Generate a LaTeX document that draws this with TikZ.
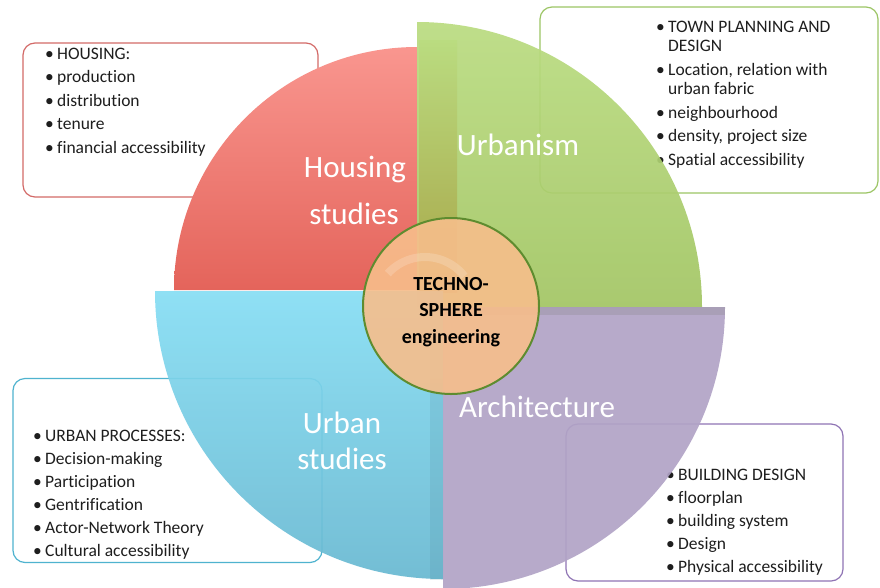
\documentclass[tikz,border=0pt]{standalone}
\usepackage{fontspec}
\setmainfont[Ligatures=NoCommon]{Carlito}
\definecolor{redtop}{HTML}{F9968F}
\definecolor{redbot}{HTML}{E4645B}
\definecolor{greentop}{HTML}{BADC80}
\definecolor{greenbot}{HTML}{A2C563}
\definecolor{olive}{HTML}{A8A345}
\definecolor{bluetop}{HTML}{86DEF4}
\definecolor{bluemid}{HTML}{70C7E1}
\definecolor{bluebot}{HTML}{68B8D1}
\definecolor{purpfill}{HTML}{B1A3C6}
\definecolor{coreorange}{HTML}{F7BE8B}
\definecolor{coregreen}{HTML}{5E8C2F}
\definecolor{redline}{HTML}{D36A68}
\definecolor{greenline}{HTML}{9CC565}
\definecolor{blueline}{HTML}{4FB3CF}
\definecolor{purpline}{HTML}{8F74B4}
\definecolor{txt}{HTML}{1E1E1E}
\newcommand\bul{\makebox[12pt][l]{•}}
\tikzset{
  listbox/.style={draw, line width=1.2pt, rounded corners=12pt, fill=white, inner sep=0pt},
  listtext/.style={anchor=north west, inner sep=0pt, text=txt,
    font=\fontsize{17.5}{19.5}\selectfont},
  qlabel/.style={anchor=base, inner sep=0pt, text=white, font=\fontsize{31}{31}\selectfont},
  quad/.style={fill opacity=0.92}
}
\begin{document}
\begin{tikzpicture}[x=1pt,y=-1pt]
\useasboundingbox (0,0) rectangle (880,587);
\clip (0,0) rectangle (880,587);
\fill[white] (0,0) rectangle (880,587);

% list boxes (behind the quadrants)
\node[listbox, draw=redline, minimum width=295pt, minimum height=154pt] (hbox) at (170.5,120) {};
\node[listbox, draw=greenline, minimum width=338pt, minimum height=186pt] (ubox) at (709,100) {};
\node[listbox, draw=blueline, minimum width=309pt, minimum height=184pt] (pbox) at (167.5,470.5) {};
\node[listbox, draw=purpline, minimum width=277pt, minimum height=157pt] (abox) at (704.5,502.5) {};

% list texts
\node[listtext] (htext) at (45,45.35) {\begin{tabular}{@{}l@{}}
\bul HOUSING:\\[4pt]
\bul production\\[4pt]
\bul distribution\\[4pt]
\bul tenure\\[4pt]
\bul financial accessibility
\end{tabular}};
\node[listtext] (utext) at (656,18.35) {\begin{tabular}{@{}l@{}}
\bul TOWN PLANNING AND\\
\hspace*{12pt}DESIGN\\[4pt]
\bul Location, relation with\\
\hspace*{12pt}urban fabric\\[4pt]
\bul neighbourhood\\[4pt]
\bul density, project size\\[4pt]
\bul Spatial accessibility
\end{tabular}};
\node[listtext] (ptext) at (33,427.35) {\begin{tabular}{@{}l@{}}
\bul URBAN PROCESSES:\\[3.5pt]
\bul Decision-making\\[3.5pt]
\bul Participation\\[3.5pt]
\bul Gentrification\\[3.5pt]
\bul Actor-Network Theory\\[3.5pt]
\bul Cultural accessibility
\end{tabular}};
\node[listtext] (atext) at (666,466.35) {\begin{tabular}{@{}l@{}}
\bul BUILDING DESIGN\\[3.5pt]
\bul floorplan\\[3.5pt]
\bul building system\\[3.5pt]
\bul Design\\[3.5pt]
\bul Physical accessibility
\end{tabular}};

% quadrants
\shade[top color=redtop, bottom color=redbot]
  (417,290) -- ++(-243,0) arc[start angle=180, end angle=270, radius=243] -- cycle;
\shade[quad, top color=greentop, bottom color=greenbot]
  (417,307) -- ++(0,-285) arc[start angle=270, end angle=360, radius=285] -- cycle;
\shade[top color=greentop, bottom color=olive, fill opacity=0.92]
  (419,40) rectangle (457,292);
\shade[quad, top color=bluetop, middle color=bluemid, bottom color=bluebot]
  (443,291) -- ++(-288,0) arc[start angle=180, end angle=90, radius=288] -- cycle;
\fill[bluebot!70!black, opacity=0.15] (430,291) rectangle (443,580);
\fill[quad, purpfill]
  (443,307) -- ++(282,0) arc[start angle=0, end angle=90, radius=282] -- cycle;
\fill[gray, opacity=0.25] (443,307) rectangle (725,315);

% quadrant labels
\node[qlabel] (hous1) at (355,177) {Housing};
\node[qlabel] (hous2) at (354,224) {studies};
\node[qlabel] (urb) at (518,155) {Urbanism};
\node[qlabel] (us1) at (342,433) {Urban};
\node[qlabel] (us2) at (342,469) {studies};
\node[qlabel] (arch) at (537,417) {Architecture};

% central circle
\node[circle, draw=coregreen, line width=2pt, fill=coreorange, fill opacity=0.9,
  minimum size=176pt, inner sep=0pt] (core) at (451,306) {};
\draw[white, opacity=0.18, line width=8pt]
  (425,307) ++(222:50) arc[start angle=222, end angle=322, radius=50];
\node[inner sep=0pt, align=center, text=black,
  font=\fontsize{20}{26.5}\selectfont\bfseries] (coretext) at (451,312)
  {TECHNO-\\SPHERE\\engineering};
\end{tikzpicture}
\end{document}
